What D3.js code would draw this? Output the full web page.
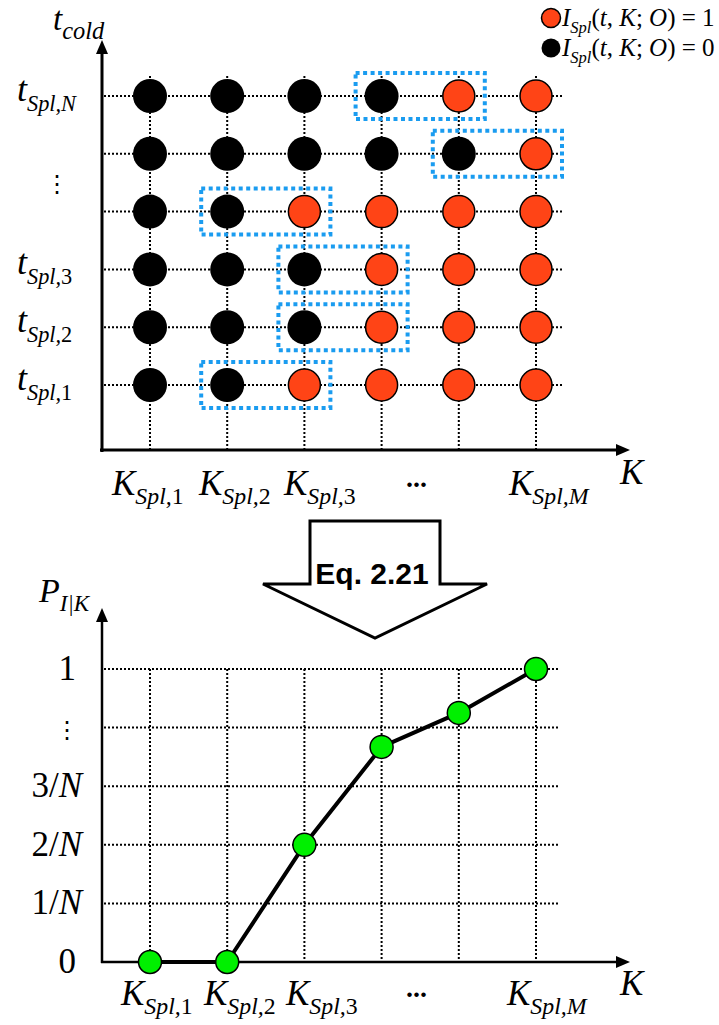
<!DOCTYPE html>
<html>
<head>
<meta charset="utf-8">
<script src="https://cdn.jsdelivr.net/npm/d3@7"></script>
<style>
  body { margin: 0; background: #fff; }
  svg { display: block; }
</style>
</head>
<body>
<svg id="chart" width="719" height="1025"></svg>
<script>
// columns (K samples) and rows (t samples, top to bottom)
const kColumns = ["1", "2", "3", "dots", "5", "M"];
const tRows = ["N", "N-1", "vdots", "3", "2", "1"];
// indicator I_Spl(t, K; O) per row, per column
const indicator = [
  [0, 0, 0, 0, 1, 1],
  [0, 0, 0, 0, 0, 1],
  [0, 0, 1, 1, 1, 1],
  [0, 0, 0, 1, 1, 1],
  [0, 0, 0, 1, 1, 1],
  [0, 0, 1, 1, 1, 1]
];
// P_{I|K} per column, in units of 1/N-ish levels (5 == 1)
const pValues = [0, 0, 2, 3.67, 4.25, 5];
const pLevels = [0, 1, 2, 3, 4, 5];
const pTickLabels = [["0"], ["1/", "N"], ["2/", "N"], ["3/", "N"], ["\u22EE"], ["1"]];

const RED = "#ff4416";
const BLUE = "#1a9cf0";
const GREEN = "#00f000";
const serif = "'Liberation Serif', 'Times New Roman', serif";
const sans = "'Liberation Sans', Arial, sans-serif";

const svg = d3.select("#chart");

function mathText(parent, x, y, parts, size, anchor, subRatio) {
  const sr = subRatio || 0.68;
  const t = parent.append("text")
    .attr("x", x).attr("y", y)
    .attr("font-family", serif)
    .attr("font-size", size)
    .attr("text-anchor", anchor || "start")
    .attr("fill", "#000");
  let shift = 0;
  parts.forEach((p) => {
    const ts = t.append("tspan").text(p.s);
    if (p.it) ts.attr("font-style", "italic");
    const target = p.sub ? size * 0.27 : 0;
    if (target !== shift) { ts.attr("dy", target - shift); shift = target; }
    if (p.sub) ts.attr("font-size", size * sr);
  });
  return t;
}

function arrowAxis(g, x1, y1, x2, y2, w) {
  g.append("line").attr("x1", x1).attr("y1", y1)
    .attr("x2", x2 - Math.sign(x2 - x1) * 8).attr("y2", y2 - Math.sign(y2 - y1) * 8)
    .attr("stroke", "#000").attr("stroke-width", w);
  let pts;
  if (y1 === y2) pts = [[x2, y2], [x2 - 14, y2 - 6], [x2 - 14, y2 + 6]];
  else pts = [[x2, y2], [x2 - 6, y2 + 14], [x2 + 6, y2 + 14]];
  g.append("path").attr("d", `M${pts.join("L")}Z`).attr("fill", "#000");
}

// ---------- top panel ----------
const x = d3.scalePoint().domain(kColumns).range([150, 536]);
const yTop = d3.scalePoint().domain(tRows).range([96, 385]);

const topG = svg.append("g");
const grid = topG.append("g")
  .attr("stroke", "#000").attr("stroke-width", 2).attr("stroke-dasharray", "2,2");
grid.selectAll("line.h").data(tRows).enter().append("line")
  .attr("x1", 104).attr("x2", 562)
  .attr("y1", (d) => yTop(d)).attr("y2", (d) => yTop(d));
grid.selectAll("line.v").data(kColumns).enter().append("line")
  .attr("x1", (d) => x(d)).attr("x2", (d) => x(d))
  .attr("y1", 76).attr("y2", 449);

arrowAxis(topG, 102, 452, 102, 40, 3);
arrowAxis(topG, 100, 450, 630, 450, 3);

// blue boxes around first 0->1 transition in each row
const boxes = [];
indicator.forEach((row, ri) => {
  const c = row.indexOf(1);
  if (c > 0) boxes.push({ row: tRows[ri], from: kColumns[c - 1], to: kColumns[c] });
});
topG.selectAll("rect.box").data(boxes).enter().append("rect")
  .attr("x", (d) => x(d.from) - 26)
  .attr("y", (d) => yTop(d.row) - 23)
  .attr("width", (d) => x(d.to) - x(d.from) + 52)
  .attr("height", 46)
  .attr("fill", "none").attr("stroke", BLUE)
  .attr("stroke-width", 4).attr("stroke-dasharray", "4,3.5");

const cells = [];
indicator.forEach((row, ri) => row.forEach((v, ci) => cells.push({ r: tRows[ri], c: kColumns[ci], v })));
topG.selectAll("circle.cell").data(cells).enter().append("circle")
  .attr("cx", (d) => x(d.c)).attr("cy", (d) => yTop(d.r))
  .attr("r", (d) => (d.v ? 16 : 17))
  .attr("fill", (d) => (d.v ? RED : "#000"))
  .attr("stroke", "#000").attr("stroke-width", (d) => (d.v ? 1.5 : 0));

// y labels
mathText(topG, 53, 30, [{ s: "t", it: 1 }, { s: "cold", it: 1, sub: 1 }], 33, "start", 0.74);
[["N", "N"], ["3", "3"], ["2", "2"], ["1", "1"]].forEach(([row, lab]) => {
  const parts = [{ s: "t", it: 1 }, { s: "Spl,", it: 1, sub: 1 }, { s: lab, it: lab === "N", sub: 1 }];
  mathText(topG, 17, yTop(row) + 5, parts, 36, "start", 0.62);
});
topG.append("text").attr("x", 57).attr("y", 192).attr("text-anchor", "middle")
  .attr("font-family", "'DejaVu Sans', sans-serif").attr("font-size", 24).text("\u22EE");

// x labels
function kLabels(g, baseY, starts, dotsX, mStart, kX, kY) {
  ["1", "2", "3"].forEach((lab, i) => {
    mathText(g, starts[i], baseY, [{ s: "K", it: 1 }, { s: "Spl,", it: 1, sub: 1 }, { s: lab, sub: 1 }], 35);
  });
  g.append("text").attr("x", dotsX).attr("y", baseY - 8).attr("font-family", serif)
    .attr("font-size", 28).attr("font-weight", "bold").text("...");
  mathText(g, mStart, baseY, [{ s: "K", it: 1 }, { s: "Spl,M", it: 1, sub: 1 }], 35);
  mathText(g, kX, kY, [{ s: "K", it: 1 }], 35);
}
kLabels(topG, 495, [112, 199, 284], 406, 509, 620, 484);

// legend
const legend = svg.append("g");
[[1, 18], [0, 48]].forEach(([v, cy]) => {
  legend.append("circle").attr("cx", 551).attr("cy", cy).attr("r", 9.5)
    .attr("fill", v ? RED : "#000").attr("stroke", "#000").attr("stroke-width", v ? 1.5 : 0);
  mathText(legend, 562, cy + 8, [
    { s: "I", it: 1 }, { s: "Spl", it: 1, sub: 1 }, { s: "(" }, { s: "t", it: 1 }, { s: ", " },
    { s: "K", it: 1 }, { s: "; " }, { s: "O", it: 1 }, { s: ") = " + v }
  ], 25, "start", 0.66);
});

// ---------- arrow ----------
const arrowPts = [[310, 521], [440, 521], [440, 584], [487, 584], [375, 638], [263, 584], [310, 584]];
svg.append("path").attr("d", `M${arrowPts.join("L")}Z`)
  .attr("fill", "#fff").attr("stroke", "#000").attr("stroke-width", 3).attr("stroke-linejoin", "miter");
svg.append("text").attr("x", 372).attr("y", 584).attr("text-anchor", "middle")
  .attr("font-family", sans).attr("font-weight", "bold").attr("font-size", 30).text("Eq. 2.21");

// ---------- bottom panel ----------
const yBot = d3.scaleLinear().domain([0, 5]).range([962, 669]);
const bot = svg.append("g");
const grid2 = bot.append("g")
  .attr("stroke", "#000").attr("stroke-width", 2).attr("stroke-dasharray", "2,2");
grid2.selectAll("line.h").data(pLevels.slice(1)).enter().append("line")
  .attr("x1", 104).attr("x2", 560)
  .attr("y1", (d) => yBot(d)).attr("y2", (d) => yBot(d));
grid2.selectAll("line.v").data(kColumns).enter().append("line")
  .attr("x1", (d) => x(d)).attr("x2", (d) => x(d))
  .attr("y1", yBot(5)).attr("y2", 960);

arrowAxis(bot, 102, 963, 102, 608, 2.5);
arrowAxis(bot, 101, 962, 630, 962, 2.5);

const line = d3.line().x((d, i) => x(kColumns[i])).y((d) => yBot(d));
bot.append("path").datum(pValues).attr("d", line)
  .attr("fill", "none").attr("stroke", "#000").attr("stroke-width", 4).attr("stroke-linejoin", "round");
bot.selectAll("circle.p").data(pValues).enter().append("circle")
  .attr("cx", (d, i) => x(kColumns[i])).attr("cy", (d) => yBot(d))
  .attr("r", 11.5).attr("fill", GREEN).attr("stroke", "#000").attr("stroke-width", 1.5);

pLevels.forEach((lv, i) => {
  const lab = pTickLabels[i];
  if (lab[0] === "\u22EE") {
    bot.append("text").attr("x", 67).attr("y", yBot(lv) + 10).attr("text-anchor", "middle")
      .attr("font-family", "'DejaVu Sans', sans-serif").attr("font-size", 24).text(lab[0]);
    return;
  }
  const parts = [{ s: lab[0] }];
  if (lab[1]) parts.push({ s: lab[1], it: 1 });
  mathText(bot, lab[1] ? 82 : 76, yBot(lv) + 11, parts, 35, "end");
});
mathText(bot, 39, 602, [{ s: "P", it: 1 }, { s: "I|K", it: 1, sub: 1 }], 34);

kLabels(bot, 1005, [121, 204, 286], 406, 507, 620, 995);
</script>
</body>
</html>
